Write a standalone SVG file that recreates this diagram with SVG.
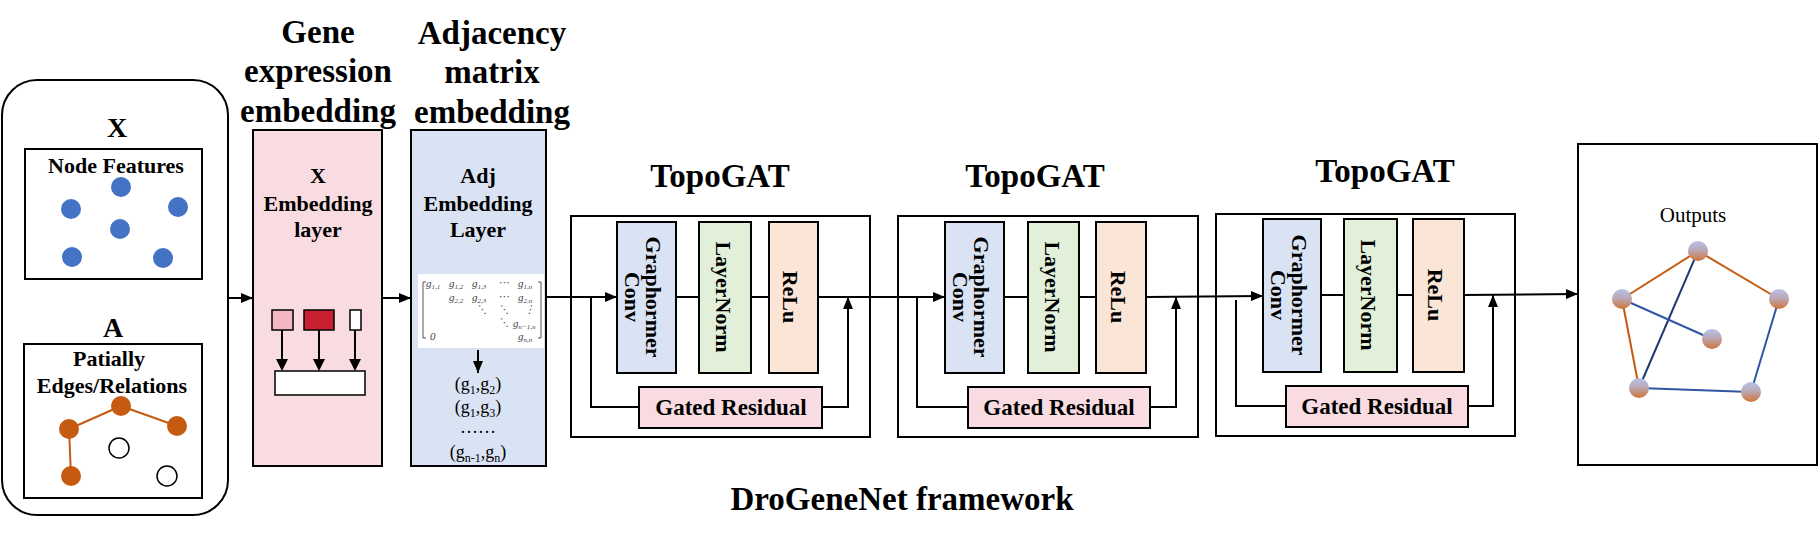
<svg xmlns="http://www.w3.org/2000/svg" width="1818" height="539" viewBox="0 0 1818 539">
<style>
  .b{fill:none;stroke:#000;stroke-width:2}
  .t{font-family:"Liberation Serif","Times New Roman","DejaVu Serif",serif;font-weight:bold;fill:#000;text-anchor:middle}
  .r{font-family:"Liberation Serif","Times New Roman","DejaVu Serif",serif;fill:#000;text-anchor:middle}
  .m{font-family:"Liberation Serif","Times New Roman","DejaVu Serif",serif;font-style:italic;font-size:11px;fill:#444}
  .ln{fill:none;stroke:#000;stroke-width:2}
  .arr{marker-end:url(#ah)}
  .blue{fill:#DAE3F3;stroke:#000;stroke-width:2}
  .green{fill:#E2F0D9;stroke:#000;stroke-width:2}
  .peach{fill:#FBE5D6;stroke:#000;stroke-width:2}
  .pink{fill:#F8DCE1;stroke:#000;stroke-width:2}
  .fd{fill:#4472C4}
  .od{fill:#C55A11}
  .oe{stroke:#C55A11;stroke-width:2}
  .be{stroke:#2F55A4;stroke-width:2}
</style>
<defs>
  <marker id="ah" markerWidth="12" markerHeight="10" refX="12" refY="5" orient="auto" markerUnits="userSpaceOnUse">
    <path d="M0,0 L12,5 L0,10 Z" fill="#000"/>
  </marker>
  <linearGradient id="ng" x1="0" y1="0" x2="0" y2="1">
    <stop offset="0" stop-color="#B6C2E8"/>
    <stop offset="0.45" stop-color="#BCA9B8"/>
    <stop offset="1" stop-color="#CF7436"/>
  </linearGradient>
</defs>
<rect width="1818" height="539" fill="#fff"/>

<!-- Input panel -->
<g id="input">
  <rect x="2" y="80" width="226" height="435" rx="35" class="b"/>
  <text class="t" x="117" y="137" font-size="28">X</text>
  <rect x="25" y="149" width="177" height="130" class="b"/>
  <text class="t" x="116" y="173" font-size="22">Node Features</text>
  <circle class="fd" cx="121" cy="187" r="10"/>
  <circle class="fd" cx="71" cy="209" r="10"/>
  <circle class="fd" cx="178" cy="207" r="10"/>
  <circle class="fd" cx="120" cy="229" r="10"/>
  <circle class="fd" cx="72" cy="257" r="10"/>
  <circle class="fd" cx="163" cy="258" r="10"/>
  <text class="t" x="113" y="337" font-size="28">A</text>
  <rect x="24" y="344" width="178" height="154" class="b"/>
  <text class="t" x="109" y="366" font-size="22">Patially</text>
  <text class="t" x="112" y="393" font-size="22">Edges/Relations</text>
  <line class="oe" x1="121" y1="406" x2="69" y2="429"/>
  <line class="oe" x1="121" y1="406" x2="177" y2="426"/>
  <line class="oe" x1="69" y1="429" x2="71" y2="476"/>
  <circle class="od" cx="121" cy="406" r="10"/>
  <circle class="od" cx="69" cy="429" r="10"/>
  <circle class="od" cx="177" cy="426" r="10"/>
  <circle class="od" cx="71" cy="476" r="10"/>
  <circle cx="119" cy="448" r="10" fill="#fff" stroke="#000" stroke-width="1.5"/>
  <circle cx="167" cy="476" r="10" fill="#fff" stroke="#000" stroke-width="1.5"/>
</g>

<!-- Gene expression embedding -->
<g id="gene-embedding">
  <text class="t" x="318" y="43" font-size="33">Gene</text>
  <text class="t" x="318" y="82" font-size="33">expression</text>
  <text class="t" x="318" y="122" font-size="33">embedding</text>
  <rect x="253" y="130" width="129" height="336" class="pink"/>
  <text class="t" x="318" y="183" font-size="22">X</text>
  <text class="t" x="318" y="211" font-size="22">Embedding</text>
  <text class="t" x="318" y="237" font-size="22">layer</text>
  <rect x="272" y="310" width="21" height="20" fill="#F4B6C2" stroke="#000" stroke-width="1.5"/>
  <rect x="304" y="310" width="30" height="20" fill="#C8202F" stroke="#000" stroke-width="1.5"/>
  <rect x="350" y="310" width="11" height="20" fill="#fff" stroke="#000" stroke-width="1.5"/>
  <rect x="275" y="371" width="90" height="24" fill="#fff" stroke="#000" stroke-width="1.5"/>
</g>

<!-- Adjacency matrix embedding -->
<g id="adj-embedding">
  <text class="t" x="492" y="44" font-size="33">Adjacency</text>
  <text class="t" x="492" y="83" font-size="33">matrix</text>
  <text class="t" x="492" y="123" font-size="33">embedding</text>
  <rect x="411" y="130" width="135" height="336" class="blue"/>
  <text class="t" x="478" y="183" font-size="22">Adj</text>
  <text class="t" x="478" y="211" font-size="22">Embedding</text>
  <text class="t" x="478" y="237" font-size="22">Layer</text>
  <rect x="418" y="274" width="126" height="74" fill="#fff"/>
  <path d="M426,282 H423 V338 H426 M538,282 H541 V338 H538" fill="none" stroke="#555" stroke-width="1"/>
  <text class="m" x="426" y="287">g<tspan font-size="7" dy="2">1,1</tspan></text>
  <text class="m" x="449" y="287">g<tspan font-size="7" dy="2">1,2</tspan></text>
  <text class="m" x="472" y="287">g<tspan font-size="7" dy="2">1,3</tspan></text>
  <text class="m" x="498" y="286">⋯</text>
  <text class="m" x="518" y="287">g<tspan font-size="7" dy="2">1,n</tspan></text>
  <text class="m" x="449" y="301">g<tspan font-size="7" dy="2">2,2</tspan></text>
  <text class="m" x="472" y="301">g<tspan font-size="7" dy="2">2,3</tspan></text>
  <text class="m" x="498" y="300">⋯</text>
  <text class="m" x="518" y="301">g<tspan font-size="7" dy="2">2,n</tspan></text>
  <text class="m" x="476" y="313">⋱</text>
  <text class="m" x="498" y="313">⋱</text>
  <text class="m" x="524" y="313">⋮</text>
  <text class="m" x="498" y="326">⋱</text>
  <text class="m" x="513" y="327">g<tspan font-size="7" dy="2">n−1,n</tspan></text>
  <text class="m" x="430" y="340">0</text>
  <text class="m" x="518" y="340">g<tspan font-size="7" dy="2">n,n</tspan></text>
  <text class="r" x="478" y="390" font-size="18">(g<tspan font-size="12" dy="4">1</tspan><tspan dy="-4">,g</tspan><tspan font-size="12" dy="4">2</tspan><tspan dy="-4">)</tspan></text>
  <text class="r" x="478" y="413" font-size="18">(g<tspan font-size="12" dy="4">1</tspan><tspan dy="-4">,g</tspan><tspan font-size="12" dy="4">3</tspan><tspan dy="-4">)</tspan></text>
  <text class="r" x="478" y="433" font-size="18">……</text>
  <text class="r" x="478" y="458" font-size="18">(g<tspan font-size="12" dy="4">n-1</tspan><tspan dy="-4">,g</tspan><tspan font-size="12" dy="4">n</tspan><tspan dy="-4">)</tspan></text>
</g>

<!-- TopoGAT 1 -->
<g id="topogat1">
  <text class="t" x="720" y="187" font-size="33">TopoGAT</text>
  <rect x="571" y="216" width="299" height="221" class="b"/>
  <rect x="617" y="222" width="59" height="151" class="blue"/>
  <text class="t" font-size="22" transform="translate(646,297) rotate(90)">Graphormer</text>
  <text class="t" font-size="22" transform="translate(625,297) rotate(90)">Conv</text>
  <rect x="699" y="222" width="52" height="151" class="green"/>
  <text class="t" font-size="22" transform="translate(716,297) rotate(90)">LayerNorm</text>
  <rect x="769" y="222" width="49" height="151" class="peach"/>
  <text class="t" font-size="22" transform="translate(783,297) rotate(90)">ReLu</text>
  <rect x="639" y="387" width="183" height="41" class="pink"/>
  <text class="t" x="731" y="415" font-size="23">Gated Residual</text>
</g>

<!-- TopoGAT 2 -->
<g id="topogat2">
  <text class="t" x="1035" y="187" font-size="33">TopoGAT</text>
  <rect x="898" y="216" width="300" height="221" class="b"/>
  <rect x="945" y="222" width="59" height="151" class="blue"/>
  <text class="t" font-size="22" transform="translate(974,297) rotate(90)">Graphormer</text>
  <text class="t" font-size="22" transform="translate(953,297) rotate(90)">Conv</text>
  <rect x="1028" y="222" width="51" height="151" class="green"/>
  <text class="t" font-size="22" transform="translate(1045,297) rotate(90)">LayerNorm</text>
  <rect x="1096" y="222" width="50" height="151" class="peach"/>
  <text class="t" font-size="22" transform="translate(1111,297) rotate(90)">ReLu</text>
  <rect x="968" y="387" width="182" height="41" class="pink"/>
  <text class="t" x="1059" y="415" font-size="23">Gated Residual</text>
</g>

<!-- TopoGAT 3 -->
<g id="topogat3">
  <text class="t" x="1385" y="182" font-size="33">TopoGAT</text>
  <rect x="1216" y="214" width="299" height="222" class="b"/>
  <rect x="1263" y="219" width="58" height="153" class="blue"/>
  <text class="t" font-size="22" transform="translate(1292,295) rotate(90)">Graphormer</text>
  <text class="t" font-size="22" transform="translate(1271,295) rotate(90)">Conv</text>
  <rect x="1344" y="219" width="53" height="153" class="green"/>
  <text class="t" font-size="22" transform="translate(1361,295) rotate(90)">LayerNorm</text>
  <rect x="1413" y="219" width="51" height="153" class="peach"/>
  <text class="t" font-size="22" transform="translate(1428,295) rotate(90)">ReLu</text>
  <rect x="1286" y="386" width="182" height="41" class="pink"/>
  <text class="t" x="1377" y="414" font-size="23">Gated Residual</text>
</g>

<!-- Outputs -->
<g id="outputs">
  <rect x="1578" y="144" width="239" height="321" class="b"/>
  <text class="r" x="1693" y="222" font-size="21">Outputs</text>
  <line class="oe" x1="1698" y1="251" x2="1622" y2="299"/>
  <line class="oe" x1="1698" y1="251" x2="1779" y2="299"/>
  <line class="oe" x1="1622" y1="299" x2="1639" y2="388"/>
  <line x1="1698" y1="251" x2="1639" y2="388" stroke="#1F3A70" stroke-width="2"/>
  <line class="be" x1="1622" y1="299" x2="1712" y2="339"/>
  <line class="be" x1="1779" y1="299" x2="1751" y2="392"/>
  <line class="be" x1="1639" y1="388" x2="1751" y2="392"/>
  <circle cx="1698" cy="251" r="10" fill="url(#ng)"/>
  <circle cx="1622" cy="299" r="10" fill="url(#ng)"/>
  <circle cx="1779" cy="299" r="10" fill="url(#ng)"/>
  <circle cx="1712" cy="339" r="10" fill="url(#ng)"/>
  <circle cx="1639" cy="388" r="10" fill="url(#ng)"/>
  <circle cx="1751" cy="392" r="10" fill="url(#ng)"/>
</g>

<g id="caption">
  <text class="t" x="902" y="510" font-size="33">DroGeneNet framework</text>
</g>

<!-- Connectors -->
<g id="connectors">
  <line class="ln arr" x1="228" y1="298" x2="253" y2="298"/>
  <line class="ln" x1="282" y1="330" x2="282" y2="360"/>
  <line class="ln" x1="319" y1="330" x2="319" y2="360"/>
  <line class="ln" x1="355" y1="330" x2="355" y2="360"/>
  <path d="M276,359 L282,371 L288,359 Z M313,359 L319,371 L325,359 Z M349,359 L355,371 L361,359 Z" fill="#000"/>
  <line class="ln arr" x1="382" y1="298" x2="411" y2="298"/>
  <line class="ln arr" x1="478" y1="350" x2="478" y2="373"/>
  <!-- block 1 -->
  <line class="ln arr" x1="546" y1="297" x2="617" y2="297"/>
  <path class="ln" d="M591,297 V407 H639"/>
  <path class="ln arr" d="M822,407 H848 V297"/>
  <line class="ln" x1="676" y1="297" x2="699" y2="297"/>
  <line class="ln" x1="751" y1="297" x2="769" y2="297"/>
  <line class="ln arr" x1="818" y1="297" x2="945" y2="297"/>
  <!-- block 2 -->
  <path class="ln" d="M917,297 V407 H968"/>
  <path class="ln arr" d="M1150,407 H1176 V297"/>
  <line class="ln" x1="1004" y1="297" x2="1028" y2="297"/>
  <line class="ln" x1="1079" y1="297" x2="1096" y2="297"/>
  <line class="ln arr" x1="1146" y1="297" x2="1263" y2="296"/>
  <!-- block 3 -->
  <path class="ln" d="M1236,300 V406 H1286"/>
  <path class="ln arr" d="M1468,406 H1493 V295"/>
  <line class="ln" x1="1321" y1="295" x2="1344" y2="295"/>
  <line class="ln" x1="1397" y1="295" x2="1413" y2="295"/>
  <line class="ln arr" x1="1464" y1="295" x2="1578" y2="294"/>
</g>
</svg>
